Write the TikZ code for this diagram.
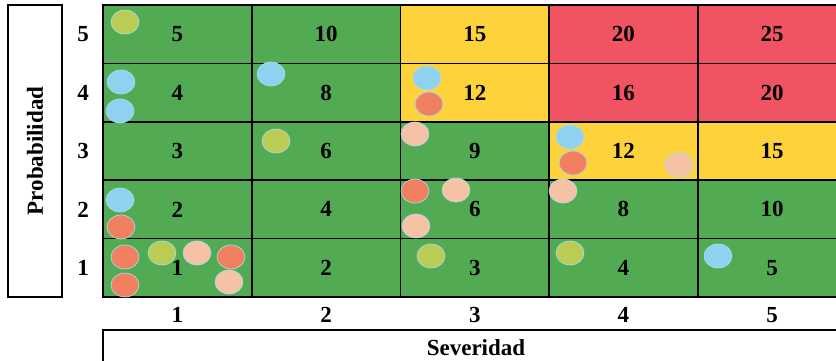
\documentclass[tikz,border=0pt]{standalone}
\usepackage{fontspec}
\setmainfont{Liberation Serif}
\usepackage{xcolor}
\definecolor{riskgreen}{RGB}{82,170,82}
\definecolor{riskyellow}{RGB}{253,210,58}
\definecolor{riskred}{RGB}{240,84,98}
\definecolor{dotlime}{RGB}{186,204,84}
\definecolor{dotblue}{RGB}{142,210,240}
\definecolor{dotorange}{RGB}{240,128,96}
\definecolor{dotpeach}{RGB}{246,194,166}
\definecolor{dotrim}{RGB}{170,218,236}

\begin{document}
\begin{tikzpicture}%
  [x=1pt,y=-1pt,
   dot/.style={fill=#1,draw=dotrim,line width=0.7pt}]
  \tikzstyle{cell}=[rectangle,draw=black,line width=1.6pt,minimum width=148.7pt,
    minimum height=58.4pt,inner sep=0,font=\fontsize{23}{23}\selectfont\bfseries]
  \tikzstyle{axis num}=[inner sep=0,font=\fontsize{23}{23}\selectfont\bfseries]
  \tikzstyle{title box}=[rectangle,draw=black,line width=1.4pt,inner sep=0,
    font=\fontsize{23}{23}\selectfont\bfseries]
  \useasboundingbox (0,0) rectangle (836,361);
  \clip (0,0) rectangle (836,361);
  \foreach \s in {1,...,5}
    \foreach \p in {1,...,5}{
      \pgfmathtruncatemacro\r{\s*\p}
      \ifnum\r>15 \def\col{riskred}\else\ifnum\r>11 \def\col{riskyellow}\else\def\col{riskgreen}\fi\fi
      \node(c\s\p)[cell,fill=\col] at ({103+148.7*(\s-0.5)},{5+58.4*(5.5-\p)}) {\r};
    }
  \foreach \x/\y/\c in {125/22/dotlime,121/82/dotblue,120/111/dotblue,271/74/dotblue,
      276/141/dotlime,427/78/dotblue,429/104/dotorange,415/134/dotpeach,
      415/191/dotorange,456/190/dotpeach,416/226/dotpeach,431/256/dotlime,
      570/137/dotblue,573/163/dotorange,679/165/dotpeach,563/191/dotpeach,
      570/253/dotlime,718/256/dotblue,120/200/dotblue,121/227/dotorange,
      125/257/dotorange,162/253/dotlime,197/253/dotpeach,231/257/dotorange,
      125/285/dotorange,229/282/dotpeach}
    \draw[dot=\c] (\x,\y) ellipse [x radius=14pt,y radius=12pt];
  \foreach \p in {1,...,5}
    \node(p\p)[axis num] at (83,{5+58.4*(5.5-\p)}) {\p};
  \foreach \s in {1,...,5}
    \node(s\s)[axis num] at ({103+148.7*(\s-0.5)},315) {\s};
  \node(prob)[title box,rotate=90,minimum width=292pt,minimum height=54pt]
    at (35,151) {Probabilidad};
  \node(sev)[title box,minimum width=746pt,minimum height=36pt]
    at (476,348) {Severidad};
\end{tikzpicture}
\end{document}
